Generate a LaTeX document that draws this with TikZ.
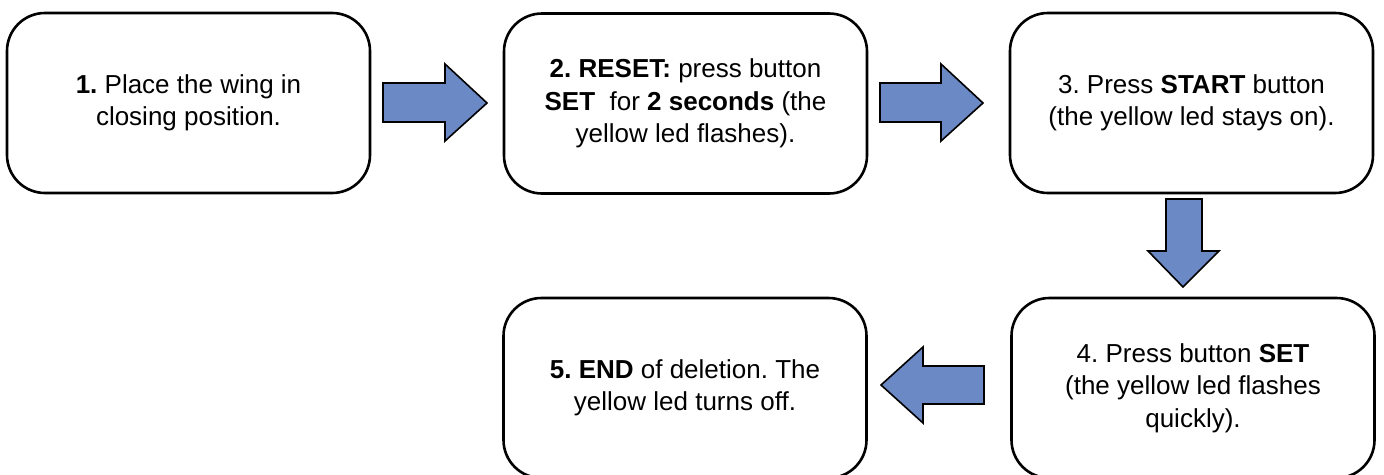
\documentclass[tikz,border=0pt]{standalone}
\usepackage{fontspec}
\setmainfont{Liberation Sans}
\frenchspacing
\begin{document}
\begin{tikzpicture}[x=1pt,y=-1pt,
  stepbox/.style={draw=black,line width=2.6pt,rounded corners=38pt,fill=white,
    minimum width=363pt,minimum height=180pt,align=center,inner sep=0pt,
    font=\fontsize{26pt}{32.5pt}\selectfont},
  blockarrow/.style={draw=black,line width=1.6pt,fill=arrowblue,line join=miter}]
\definecolor{arrowblue}{RGB}{106,137,197}
\useasboundingbox (0,0) rectangle (1384,474);
\fill[white] (0,0) rectangle (1384,474);
\node[stepbox] (b1) at (188.5,103) {\textbf{1.} Place the wing in\\closing position.};
\node[stepbox] (b2) at (685.5,103.5) {\textbf{2. RESET:} press button\\\textbf{SET}\ \ for \textbf{2 seconds} (the\\yellow led flashes).};
\node[stepbox] (b3) at (1191.5,103) {3. Press \textbf{START} button\\(the yellow led stays on).};
\node[stepbox] (b4) at (1193,388) {4. Press button \textbf{SET}\\(the yellow led flashes\\quickly).};
\node[stepbox] (b5) at (685,388) {\textbf{5. END} of deletion. The\\yellow led turns off.};
% block arrows
\draw[blockarrow] (383,83) -- (445,83) -- (445,64) -- (487,103) -- (445,141) -- (445,122) -- (383,122) -- cycle;
\draw[blockarrow] (880,83) -- (941,83) -- (941,64) -- (983,103) -- (941,141) -- (941,122) -- (880,122) -- cycle;
\draw[blockarrow] (1166,199) -- (1202,199) -- (1202,251) -- (1219,251) -- (1183,287) -- (1148,251) -- (1166,251) -- cycle;
\draw[blockarrow] (984,366) -- (923,366) -- (923,347) -- (881,385) -- (923,423) -- (923,404) -- (984,404) -- cycle;
\end{tikzpicture}
\end{document}
